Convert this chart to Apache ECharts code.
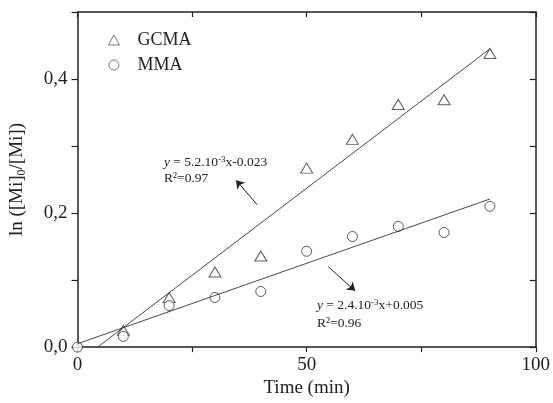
<!DOCTYPE html>
<html>
<head>
<meta charset="utf-8">
<script src="https://cdn.jsdelivr.net/npm/echarts@6/dist/echarts.min.js"></script>
<style>
  html, body { margin: 0; padding: 0; background: #fff; }
  #chart { width: 553px; height: 403px; }
</style>
</head>
<body>
<div id="chart"></div>
<script>
// measured points
const gcmaTime = [10, 20, 30, 40, 50, 60, 70, 80, 90]
const gcmaVal = [0.025, 0.074, 0.112, 0.136, 0.267, 0.31, 0.362, 0.369, 0.438]
const mmaTime = [0, 10, 20, 30, 40, 50, 60, 70, 80, 90]
const mmaVal = [0, 0.016, 0.062, 0.074, 0.083, 0.143, 0.165, 0.18, 0.171, 0.21]

// linear fits (end points)
const gcmaFit = [[4.4, 0], [90, 0.445]]
const mmaFit = [[0, 0.005], [90, 0.221]]

// arrows pointing to the fit equations
const gcmaArrow = [[39.2, 0.2125], [34.6, 0.249]]
const mmaArrow = [[54.7, 0.12], [60.6, 0.084]]

const serif = '"Liberation Serif", "Times New Roman", serif'
const ink = '#222'

const pairs = (xs, ys) => xs.map((x, i) => [x, ys[i]])

const chart = echarts.init(document.getElementById('chart'))

const baseX = {
  type: 'value', min: 0, max: 100, interval: 25,
  axisLine: { show: true, onZero: false, lineStyle: { color: ink, width: 1.5 } },
  splitLine: { show: false }
}
const baseY = {
  type: 'value', min: 0, max: 0.5, interval: 0.1,
  axisLine: { show: true, onZero: false, lineStyle: { color: ink, width: 1.5 } },
  splitLine: { show: false }
}

const arrowLine = (pts) => ({
  silent: true,
  symbol: ['none', 'arrow'],
  symbolSize: 8,
  label: { show: false },
  emphasis: { disabled: true },
  lineStyle: { color: ink, width: 1, type: 'solid' },
  data: [[{ coord: pts[0] }, { coord: pts[1] }]]
})

const eqText = (left, top, text) => ({
  type: 'text', left, top,
  style: {
    text,
    fontFamily: serif, fontSize: 13.5, fill: ink,
    rich: {
      i: { fontFamily: serif, fontSize: 13.5, fontStyle: 'italic', color: ink },
      sup: { fontFamily: serif, fontSize: 9, color: ink, verticalAlign: 'top', padding: [0, 0, 6, 0] }
    }
  }
})

const hollow = { color: '#fff', borderColor: '#333', borderWidth: 1 }

const option = {
  animation: false,
  backgroundColor: '#fff',
  grid: { left: 77, right: 16, top: 12, bottom: 54 },
  legend: {
    orient: 'vertical',
    left: 103,
    top: 26,
    itemWidth: 11,
    itemHeight: 10,
    itemGap: 7,
    itemStyle: { color: '#fff', borderColor: '#333', borderWidth: 0.8 },
    data: ['GCMA', 'MMA'],
    textStyle: { fontFamily: serif, fontSize: 18, color: ink, padding: [0, 0, 0, 13] }
  },
  xAxis: [
    Object.assign({}, baseX, {
      position: 'bottom',
      name: 'Time (min)',
      nameLocation: 'middle',
      nameGap: 30,
      nameTextStyle: { fontFamily: serif, fontSize: 19, color: ink },
      axisTick: { show: true, inside: false, length: 5, lineStyle: { color: ink, width: 1.2 } },
      axisLabel: {
        fontFamily: serif, fontSize: 19, color: ink, margin: 8,
        formatter: v => (v % 50 === 0 ? String(v) : '')
      }
    }),
    Object.assign({}, baseX, {
      position: 'top',
      axisTick: { show: true, inside: true, length: 5, lineStyle: { color: ink, width: 1.2 } },
      axisLabel: { show: false }
    })
  ],
  yAxis: [
    Object.assign({}, baseY, {
      position: 'left',
      name: 'ln ([Mi]{sub|0}/[Mi])',
      nameLocation: 'middle',
      nameGap: 50,
      nameRotate: 90,
      nameTextStyle: {
        fontFamily: serif, fontSize: 19, color: ink,
        rich: { sub: { fontFamily: serif, fontSize: 12, color: ink, verticalAlign: 'bottom', padding: [8, 0, 0, 0] } }
      },
      axisTick: { show: true, inside: false, length: 6, lineStyle: { color: ink, width: 1.2 } },
      axisLabel: {
        fontFamily: serif, fontSize: 19, color: ink, margin: 10,
        formatter: v => (Math.round(v * 10) % 2 === 0 ? v.toFixed(1).replace('.', ',') : '')
      }
    }),
    Object.assign({}, baseY, {
      position: 'right',
      axisTick: { show: true, inside: true, length: 6, lineStyle: { color: ink, width: 1.2 } },
      axisLabel: { show: false }
    })
  ],
  series: [
    {
      name: 'GCMA fit',
      type: 'line',
      showSymbol: false,
      silent: true,
      lineStyle: { color: '#333', width: 0.9 },
      data: gcmaFit,
      markLine: arrowLine(gcmaArrow)
    },
    {
      name: 'MMA fit',
      type: 'line',
      showSymbol: false,
      silent: true,
      lineStyle: { color: '#333', width: 0.9 },
      data: mmaFit,
      markLine: arrowLine(mmaArrow)
    },
    {
      name: 'GCMA',
      type: 'scatter',
      symbol: 'triangle',
      symbolSize: [12, 10],
      itemStyle: hollow,
      data: pairs(gcmaTime, gcmaVal)
    },
    {
      name: 'MMA',
      type: 'scatter',
      symbol: 'circle',
      symbolSize: 10,
      itemStyle: hollow,
      data: pairs(mmaTime, mmaVal)
    }
  ],
  graphic: [
    eqText(164, 155, '{i|y} = 5.2.10{sup|-3}x-0.023'),
    eqText(164, 171, 'R²=0.97'),
    eqText(317, 298, '{i|y} = 2.4.10{sup|-3}x+0.005'),
    eqText(317, 316, 'R²=0.96')
  ]
}

chart.setOption(option)
</script>
</body>
</html>
